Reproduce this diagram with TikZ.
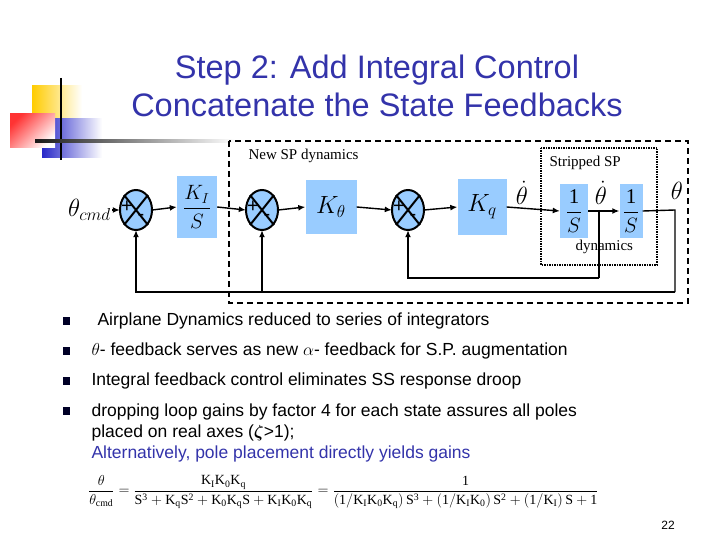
\documentclass[tikz,border=0pt]{standalone}
\usepackage{amsmath}
\usepackage{fontspec}
\setmainfont{Liberation Sans}
\setmathrm{Liberation Serif}
\newfontfamily\serifx{Liberation Serif}
\usetikzlibrary{shapes.geometric,arrows.meta,calc}
\definecolor{ttl}{RGB}{51,51,170}
\definecolor{blk}{RGB}{153,204,255}
\tikzset{
 gbox/.style={fill=blk,draw=none,inner sep=0pt},
 sumj/.style={ellipse,fill=blk,draw=none,minimum width=32pt,minimum height=40pt,inner sep=0pt},
 sig/.style={line width=1.4pt,-{Latex[length=7pt,width=6pt]}},
 ln/.style={line width=1.4pt},
 bul/.style={anchor=west,font=\fontsize{17.5}{21}\selectfont},
}
\begin{document}
\begin{tikzpicture}[x=1pt,y=-1pt]
\useasboundingbox (0,0) rectangle (720,540);
% logo
\shade[left color={rgb,255:red,255;green,204;blue,0},right color=white] (32,86) rectangle (82,120);
\shade[left color={rgb,255:red,40;green,40;blue,200},right color=white] (42,119) rectangle (102,158);
\shade[left color=white,right color=red,top color=red!80, bottom color=white,shading angle=45] (10,114) rectangle (55,148);
\draw[line width=2.5pt] (61,78) -- (61,160);
\shade[left color=black!90,right color=white] (35,140) rectangle (235,143);
% title
\node[font=\fontsize{32.5}{38}\selectfont,text=ttl,align=center] (title) at (377,86) {Step 2: Add Integral Control\\Concatenate the State Feedbacks};
% diagram
\node[anchor=east,font=\fontsize{24}{24}\selectfont,inner sep=1pt] (cmd) at (112,210) {$\theta_{cmd}$};
\node[sumj] (s1) at (136,210) {};
\node[gbox,minimum width=40pt,minimum height=62pt] (ki) at (197,207) {\fontsize{21}{21}\selectfont$\dfrac{K_I}{S}$};
\node[sumj] (s2) at (262,210) {};
\node[gbox,minimum width=51pt,minimum height=53pt] (kt) at (331,207) {\fontsize{27}{27}\selectfont$K_\theta$};
\node[sumj] (s3) at (408,210) {};
\node[gbox,minimum width=49pt,minimum height=55pt] (kq) at (482,207) {\fontsize{27}{27}\selectfont$K_q$};
\node[gbox,minimum width=28pt,minimum height=53pt] (i1) at (574,211) {\fontsize{21}{21}\selectfont$\dfrac{\mathrm{1}}{S}$};
\node[gbox,minimum width=23pt,minimum height=53pt] (i2) at (631,211) {\fontsize{21}{21}\selectfont$\dfrac{\mathrm{1}}{S}$};
\foreach \s in {s1,s2,s3}{
 \draw[line width=2pt] (\s) ellipse (16 and 20);
 \draw[line width=2pt] ($(\s)+(-12,-15)$) -- ($(\s)+(12,15)$) ($(\s)+(12,-15)$) -- ($(\s)+(-12,15)$);
 \node[font=\fontsize{20}{20}\selectfont] at ($(\s)+(-9,-3)$) {+};
 \node[font=\fontsize{20}{20}\selectfont] at ($(\s)+(5,7)$) {-};
}
\node[font=\fontsize{26}{26}\selectfont,inner sep=0pt] (td1) at (522,193) {$\dot\theta$};
\node[font=\fontsize{26}{26}\selectfont,inner sep=0pt] (td2) at (601,193) {$\dot\theta$};
\node[font=\fontsize{28}{28}\selectfont,inner sep=0pt] (th) at (677,191) {$\theta$};
\coordinate (o1) at (675,210);
\coordinate (b1) at (675,292);
\coordinate (b2) at (599,278);
\coordinate (br) at (599,210);
\draw[sig] (cmd.east) -- (s1.west);
\draw[sig] (s1.east) -- (ki.west);
\draw[sig] (ki.east) -- (s2.west);
\draw[sig] (s2.east) -- (kt.west);
\draw[sig] (kt.east) -- (s3.west);
\draw[sig] (s3.east) -- (kq.west);
\draw[sig] (kq.east) -- (i1.west);
\draw[sig] (i1.east) -- (i2.west);
\draw[ln] (i2.east) -- (o1) -- (b1);
\draw[sig] (b1) -| (s1.south);
\draw[sig] (262,292) -- (s2.south);
\draw[ln] (br) -- (b2);
\draw[sig] (b2) -| (s3.south);
% frames
\draw[line width=2.2pt,dash pattern=on 6pt off 4pt] (229,141) rectangle (688,303);
\draw[line width=2pt,dash pattern=on 1.5pt off 1pt] (541,148) rectangle (657,265);
\node[anchor=north west,font=\serifx\fontsize{15}{15}\selectfont] (nsp) at (245,146) {New SP dynamics};
\node[anchor=north west,font=\serifx\fontsize{15}{15}\selectfont] (ssp) at (546,153) {Stripped SP};
\node[anchor=north west,font=\serifx\fontsize{15}{15}\selectfont] (dyn) at (572,237) {dynamics};
% bullets
\foreach \y in {321,351,381,411}{\fill[black!85!blue] (63,\y-4) rectangle (70,\y+4);}
\node[bul] (b1t) at (94,321) {Airplane Dynamics reduced to series of integrators};
\node[bul] (b2t) at (88,351) {$\theta$- feedback serves as new $\alpha$- feedback for S.P. augmentation};
\node[bul] (b3t) at (88,381) {Integral feedback control eliminates SS response droop};
\node[bul,align=left,anchor=north west] (b4t) at (88,400) {dropping loop gains by factor 4 for each state assures all poles\\placed on real axes ($\boldsymbol{\zeta}$>1);\\\textcolor{ttl}{Alternatively, pole placement directly yields gains}};
% equation
\node[anchor=west,font=\serifx\fontsize{14}{15}\selectfont,inner sep=0pt] (eq) at (88,492) {$\displaystyle\frac{\mathrm{\theta}}{\mathrm{\theta_{cmd}}}=\frac{\mathrm{K_IK_0K_q}}{\mathrm{S^3+K_qS^2+K_0K_qS+K_IK_0K_q}}=\frac{\mathrm{1}}{\mathrm{\left(1/K_IK_0K_q\right)S^3+\left(1/K_IK_0\right)S^2+\left(1/K_I\right)S+1}}$};
\node[font=\fontsize{12}{12}\selectfont] (pg) at (668,525) {22};
\end{tikzpicture}
\end{document}
